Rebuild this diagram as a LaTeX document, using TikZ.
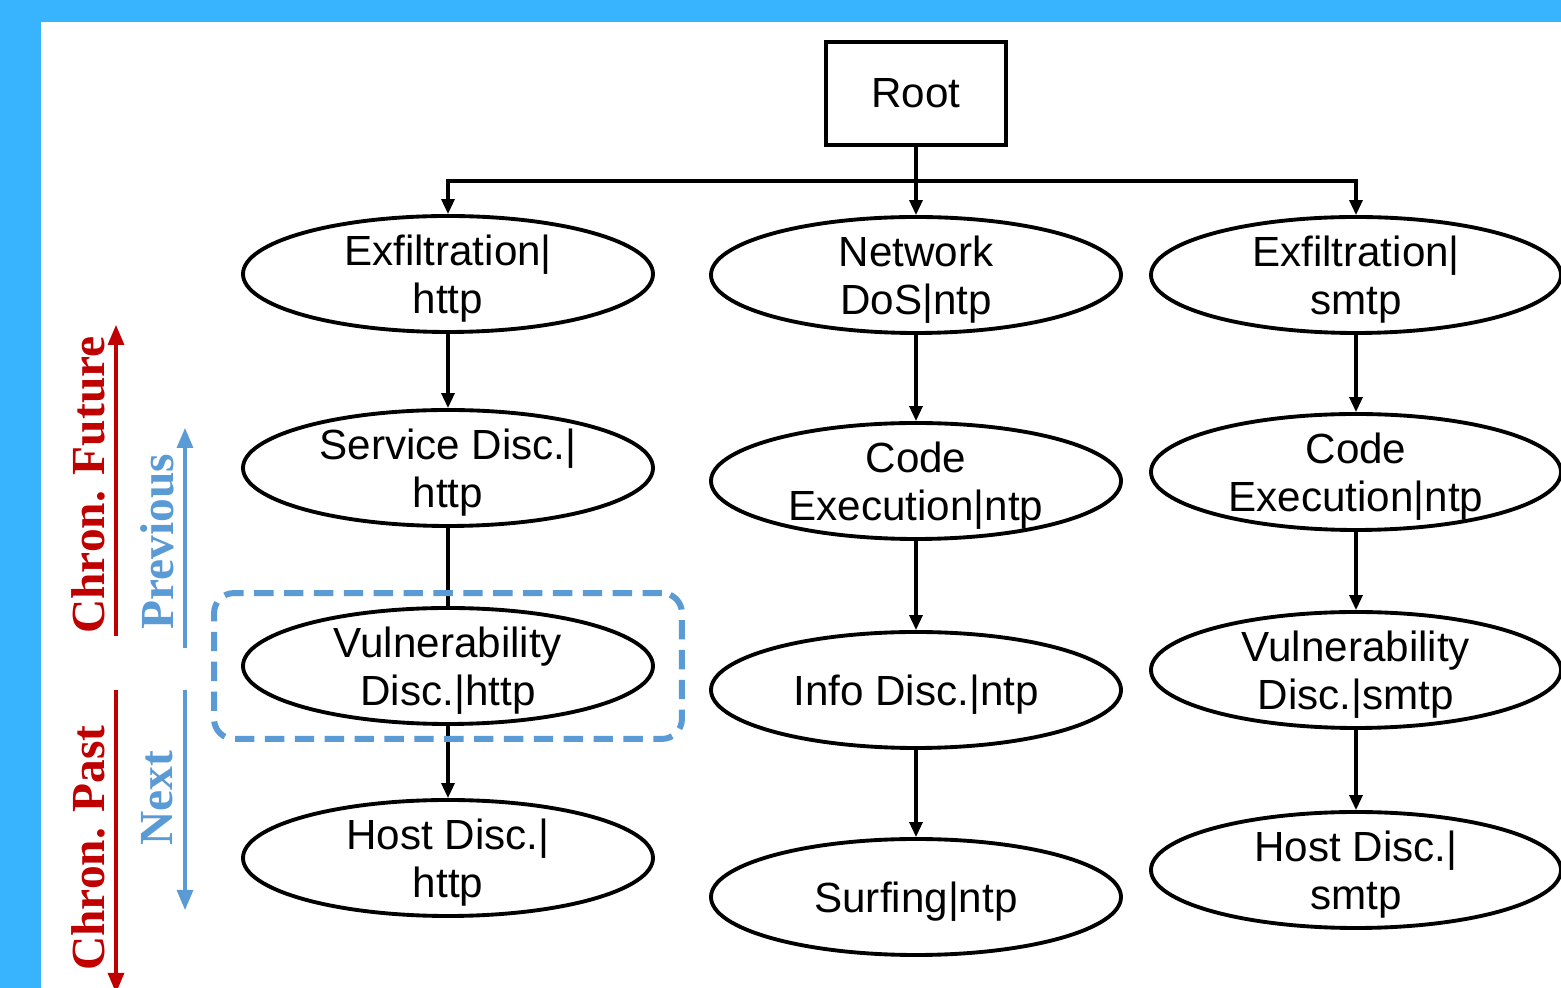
\documentclass[tikz,border=0pt]{standalone}
\usepackage{fontspec}
\setmainfont{Liberation Sans}
\newfontfamily\labelfont{Liberation Serif}
\usetikzlibrary{shapes.geometric,arrows.meta,fit}
\definecolor{frameblue}{HTML}{38B4FF}
\definecolor{chronred}{HTML}{C00000}
\definecolor{stepblue}{HTML}{5B9BD5}

\begin{document}
\begin{tikzpicture}[every node/.style={font=\fontsize{12}{13.7}\selectfont},
  attack/.style={draw,ellipse,line width=1.1pt,minimum width=4.1cm,minimum height=1.16cm,inner sep=0pt,align=center,text depth=-1.5pt},
  link/.style={line width=0.9pt,-{Triangle[length=1.5mm,width=1.3mm]}},
  axis/.style={line width=0.9pt,-{Triangle[length=2mm,width=1.6mm]}},
  axislabel/.style={rotate=90,inner sep=0pt,font=\labelfont\bfseries\fontsize{13.5}{15}\selectfont}]
  \useasboundingbox (0,0) rectangle (15.61,-9.88);
  \fill[frameblue] (0,0) rectangle (15.61,-9.88);
  \fill[white] (0.41,-0.225) rectangle (15.61,-9.88);
  \node[draw,line width=1.1pt,minimum width=1.8cm,minimum height=1.03cm] (root) at (9.16,-0.935) {Root};
  % http chain
  \node[attack] (exfilHttp) at (4.48,-2.74) {Exfiltration|\\http};
  \node[attack] (svcHttp) at (4.48,-4.68) {Service Disc.|\\http};
  \node[attack] (vulnHttp) at (4.48,-6.66) {Vulnerability\\Disc.|http};
  \node[attack] (hostHttp) at (4.48,-8.58) {Host Disc.|\\http};
  % ntp chain
  \node[attack] (dosNtp) at (9.16,-2.75) {Network\\DoS|ntp};
  \node[attack] (codeNtp) at (9.16,-4.81) {Code\\Execution|ntp};
  \node[attack] (infoNtp) at (9.16,-6.90) {Info Disc.|ntp};
  \node[attack] (surfNtp) at (9.16,-8.97) {Surfing|ntp};
  % smtp chain
  \node[attack] (exfilSmtp) at (13.56,-2.75) {Exfiltration|\\smtp};
  \node[attack] (codeSmtp) at (13.56,-4.72) {Code\\Execution|ntp};
  \node[attack] (vulnSmtp) at (13.56,-6.70) {Vulnerability\\Disc.|smtp};
  \node[attack] (hostSmtp) at (13.56,-8.70) {Host Disc.|\\smtp};
  \coordinate (bus) at (9.16,-1.81);
  \draw[link] (root.south) -- (dosNtp.north);
  \draw[link] (bus) -| (exfilHttp.north);
  \draw[link] (bus) -| (exfilSmtp.north);
  \foreach \a/\b in {exfilHttp/svcHttp,vulnHttp/hostHttp,dosNtp/codeNtp,codeNtp/infoNtp,infoNtp/surfNtp,exfilSmtp/codeSmtp,codeSmtp/vulnSmtp,vulnSmtp/hostSmtp}
    \draw[link] (\a) -- (\b);
  \draw[line width=0.9pt] (svcHttp) -- (vulnHttp);
  \node[draw=stepblue,line width=1.7pt,dash pattern=on 5.5pt off 3pt,rounded corners=0.2cm,fit=(vulnHttp),inner xsep=0.27cm,inner ysep=0.13cm] (focus) {};
  % time axes
  \coordinate (futTop) at (1.16,-3.25);
  \coordinate (futEnd) at (1.16,-6.36);
  \coordinate (pastTop) at (1.16,-6.90);
  \coordinate (pastEnd) at (1.16,-9.93);
  \draw[axis,chronred] (futEnd) -- (futTop);
  \draw[axis,chronred] (pastTop) -- (pastEnd);
  \node[axislabel,text=chronred] (future) at (0.88,-4.85) {Chron. Future};
  \node[axislabel,text=chronred] (past) at (0.88,-8.48) {Chron. Past};
  \coordinate (prevTop) at (1.85,-4.28);
  \coordinate (prevEnd) at (1.85,-6.48);
  \coordinate (nextTop) at (1.85,-6.90);
  \coordinate (nextEnd) at (1.85,-9.10);
  \draw[axis,stepblue] (prevEnd) -- (prevTop);
  \draw[axis,stepblue] (nextTop) -- (nextEnd);
  \node[axislabel,text=stepblue] (previous) at (1.57,-5.42) {Previous};
  \node[axislabel,text=stepblue] (next) at (1.57,-7.98) {Next};
\end{tikzpicture}
\end{document}
